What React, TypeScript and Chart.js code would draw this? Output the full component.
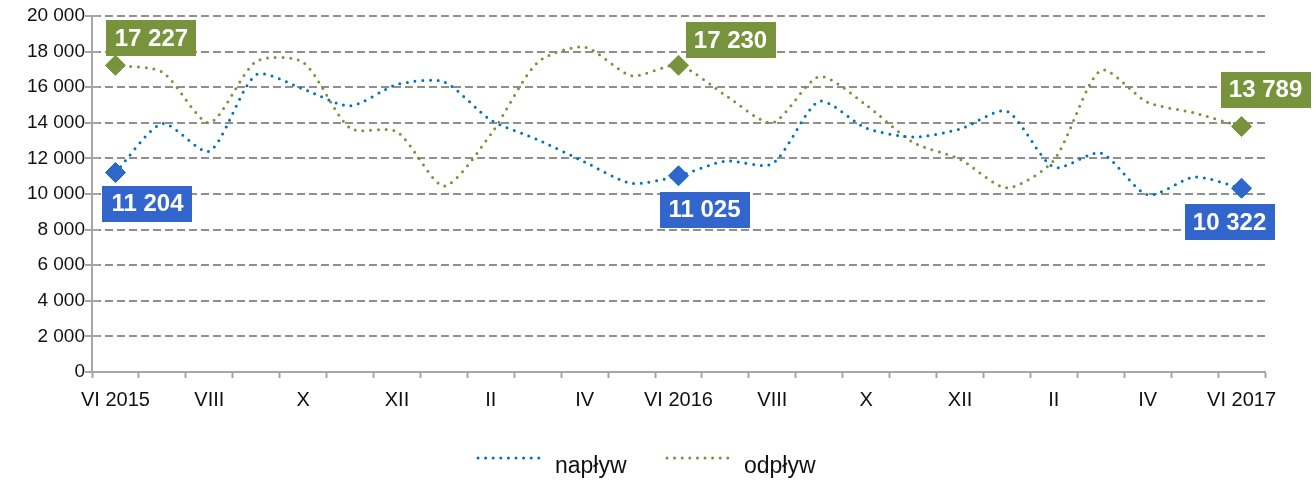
import React, { useEffect, useRef } from 'react';
import { Chart, registerables } from 'chart.js';

Chart.register(...registerables);

const months = ['VI 2015', 'VII', 'VIII', 'IX', 'X', 'XI', 'XII', 'I', 'II', 'III', 'IV', 'V', 'VI 2016', 'VII', 'VIII', 'IX', 'X', 'XI', 'XII', 'I', 'II', 'III', 'IV', 'V', 'VI 2017'];
const naplyw = [11204, 13950, 12400, 16700, 15900, 14950, 16150, 16300, 14150, 13050, 11800, 10600, 11025, 11850, 11700, 15200, 13700, 13200, 13650, 14650, 11500, 12300, 9950, 10950, 10322];
const odplyw = [17227, 16850, 14000, 17450, 17400, 13700, 13500, 10450, 13350, 17400, 18250, 16650, 17230, 15550, 14000, 16600, 15000, 12900, 11950, 10350, 11900, 16950, 15150, 14550, 13789];
const seriesNames = ['napływ', 'odpływ'];
const labelledIdx = [0, 12, 24];
const yMin = 0;
const yMax = 20000;
const yStep = 2000;

const BLUE_LINE = '#0070C0';
const BLUE_BOX = '#3366CC';
const GREEN = '#77933C';
const AXIS = '#a6a6a6';
const GRID = '#8f8f8f';
const FONT = '"Liberation Sans", Arial, sans-serif';

// pixel offsets of the value boxes relative to their points (style only)
const boxOffsets = [
  [[32, 31], [26, 34], [-12, 34]],
  [[36, -27], [52, -25], [24, -37]],
];

const fmt = (n: number) => String(n).replace(/\B(?=(\d{3})+(?!\d))/g, ' ');

const valueBoxes = {
  id: 'valueBoxes',
  afterDatasetsDraw(chart: any) {
    const ctx = chart.ctx;
    ctx.save();
    chart.data.datasets.forEach((ds: any, d: number) => {
      const meta = chart.getDatasetMeta(d);
      labelledIdx.forEach((idx, k) => {
        const el = meta.data[idx];
        if (!el) return;
        const [dx, dy] = boxOffsets[d][k];
        const cx = el.x + dx;
        const cy = el.y + dy;
        const w = 90, h = 36;
        ctx.fillStyle = d === 0 ? BLUE_BOX : GREEN;
        ctx.fillRect(Math.round(cx - w / 2), Math.round(cy - h / 2), w, h);
        ctx.fillStyle = '#ffffff';
        ctx.font = `bold 24px ${FONT}`;
        ctx.textAlign = 'center';
        ctx.textBaseline = 'middle';
        ctx.fillText(fmt(ds.data[idx]), cx, cy + 1);
      });
    });
    ctx.restore();
  },
};

// short tick marks on the inner side of the value axis (cross-style ticks)
const innerTicks = {
  id: 'innerTicks',
  afterDraw(chart: any) {
    const ctx = chart.ctx;
    const ys = chart.scales.y;
    ctx.save();
    ctx.strokeStyle = AXIS;
    ctx.lineWidth = 2;
    ys.ticks.forEach((t: any) => {
      const py = Math.round(ys.getPixelForValue(t.value));
      ctx.beginPath();
      ctx.moveTo(ys.right, py);
      ctx.lineTo(ys.right + 7, py);
      ctx.stroke();
    });
    ctx.restore();
  },
};

const customLegend = {
  id: 'customLegend',
  afterDraw(chart: any) {
    const ctx = chart.ctx;
    const y = 458;
    const items = [
      { x: 478, color: BLUE_LINE, text: seriesNames[0] },
      { x: 667, color: GREEN, text: seriesNames[1] },
    ];
    ctx.save();
    items.forEach((it) => {
      ctx.strokeStyle = it.color;
      ctx.lineWidth = 3;
      ctx.lineCap = 'round';
      ctx.setLineDash([0, 7.6]);
      ctx.beginPath();
      ctx.moveTo(it.x, y);
      ctx.lineTo(it.x + 61, y);
      ctx.stroke();
      ctx.setLineDash([]);
      ctx.fillStyle = '#111';
      ctx.font = `23px ${FONT}`;
      ctx.textAlign = 'left';
      ctx.textBaseline = 'alphabetic';
      ctx.fillText(it.text, it.x + 77, 473);
    });
    ctx.restore();
  },
};

export default function App() {
  const ref = useRef<HTMLCanvasElement | null>(null);
  useEffect(() => {
    document.body.style.margin = '0';
    if (!ref.current) return;
    const pr = (ctx: any) => (labelledIdx.includes(ctx.dataIndex) ? 10 : 0);
    const chart = new Chart(ref.current, {
      type: 'line',
      data: {
        labels: months,
        datasets: [
          {
            label: seriesNames[0],
            data: naplyw,
            borderColor: BLUE_LINE,
            backgroundColor: BLUE_BOX,
            borderWidth: 3,
            borderDash: [0, 7.7],
            borderCapStyle: 'round',
            tension: 0.25,
            pointStyle: 'rectRot',
            pointRadius: pr,
            pointHoverRadius: pr,
            pointBackgroundColor: BLUE_BOX,
            pointBorderColor: BLUE_LINE,
            pointBorderWidth: 1,
          },
          {
            label: seriesNames[1],
            data: odplyw,
            borderColor: GREEN,
            backgroundColor: GREEN,
            borderWidth: 3,
            borderDash: [0, 7.7],
            borderCapStyle: 'round',
            tension: 0.25,
            pointStyle: 'rectRot',
            pointRadius: pr,
            pointHoverRadius: pr,
            pointBackgroundColor: GREEN,
            pointBorderColor: GREEN,
            pointBorderWidth: 1,
          },
        ],
      },
      options: {
        animation: false,
        responsive: true,
        maintainAspectRatio: false,
        layout: { padding: { top: 16, right: 51, bottom: 60, left: 0 } },
        plugins: { legend: { display: false }, tooltip: { enabled: false } },
        scales: {
          x: {
            type: 'category',
            offset: true,
            afterFit: (s: any) => { s.height = 50; },
            grid: {
              offset: true,
              drawOnChartArea: false,
              drawTicks: true,
              tickLength: 6,
              tickColor: AXIS,
              tickWidth: 2,
            },
            border: { color: AXIS, width: 2 },
            ticks: {
              autoSkip: false,
              maxRotation: 0,
              padding: 10,
              color: '#111',
              font: { family: FONT, size: 20 },
              callback: (_v: any, i: number) => (i % 2 === 0 ? months[i] : ''),
            },
          },
          y: {
            min: yMin,
            max: yMax,
            afterFit: (s: any) => { s.width = 92; },
            grid: {
              color: (c: any) => (c.tick && c.tick.value === 0 ? 'rgba(0,0,0,0)' : GRID),
              lineWidth: 2,
              drawTicks: true,
              tickLength: 7,
              tickColor: AXIS,
              tickWidth: 2,
            },
            border: { color: AXIS, width: 2, dash: [8, 4] },
            ticks: {
              stepSize: yStep,
              padding: 0,
              color: '#111',
              font: { family: FONT, size: 19 },
              callback: (v: any) => fmt(Number(v)),
            },
          },
        },
      },
      plugins: [valueBoxes, innerTicks, customLegend],
    } as any);
    return () => chart.destroy();
  }, []);
  return (
    <div style={{ position: 'relative', width: '1316px', height: '482px' }}>
      <canvas ref={ref} />
    </div>
  );
}
